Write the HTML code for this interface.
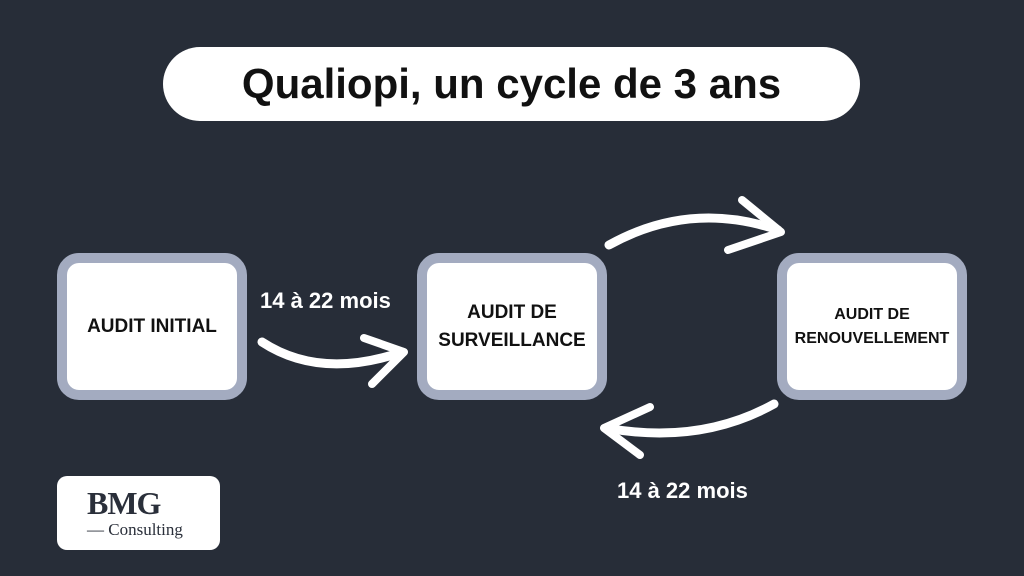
<!DOCTYPE html>
<html><head><meta charset="utf-8"><style>
body{margin:0;width:1024px;height:576px;background:#272d38;position:relative;overflow:hidden;font-family:"Liberation Sans",sans-serif}
.pill{position:absolute;left:163px;top:47px;width:697px;height:74px;background:#fff;border-radius:37px;display:flex;align-items:center;justify-content:center;font-weight:bold;font-size:42px;color:#111}
.box{position:absolute;top:253px;width:170px;height:127px;border:10px solid #a3abc0;border-radius:22px;background:#fff;display:flex;align-items:center;justify-content:center;text-align:center;font-weight:bold;color:#111;font-size:19px;line-height:28px}
.lbl{position:absolute;color:#fff;font-weight:bold;font-size:22px}
.logo{position:absolute;left:57px;top:476px;width:163px;height:74px;background:#fff;border-radius:10px;font-family:"Liberation Serif",serif;color:#2a2f3a}
</style></head><body>
<div class="pill">Qualiopi, un cycle de 3 ans</div>
<div class="box" style="left:57px">AUDIT INITIAL</div>
<div class="box" style="left:417px">AUDIT DE<br>SURVEILLANCE</div>
<div class="box" style="left:777px;font-size:16px;line-height:24px">AUDIT DE<br>RENOUVELLEMENT</div>
<div class="lbl" style="left:260px;top:288px">14 à 22 mois</div>
<div class="lbl" style="left:617px;top:478px">14 à 22 mois</div>
<svg width="1024" height="576" style="position:absolute;left:0;top:0" fill="none" stroke="#fff" stroke-linecap="round" stroke-linejoin="round">
<path d="M262 342 Q320 380 402 352" stroke-width="9"/>
<path d="M364 338 L404 352 L372 384" stroke-width="8"/>
<path d="M609 245 Q690 200 778 230" stroke-width="9"/>
<path d="M742 200 L781 232 L728 250" stroke-width="8"/>
<path d="M774 404 Q700 445 606 428" stroke-width="9"/>
<path d="M650 407 L604 428 L640 455" stroke-width="8"/>
</svg>
<div class="logo">
<div style="position:absolute;left:30px;top:9px;font-size:32px;font-weight:bold;letter-spacing:-1px">BMG</div>
<div style="position:absolute;left:30px;top:44px;font-size:17px">— Consulting</div>
</div>
</body></html>
